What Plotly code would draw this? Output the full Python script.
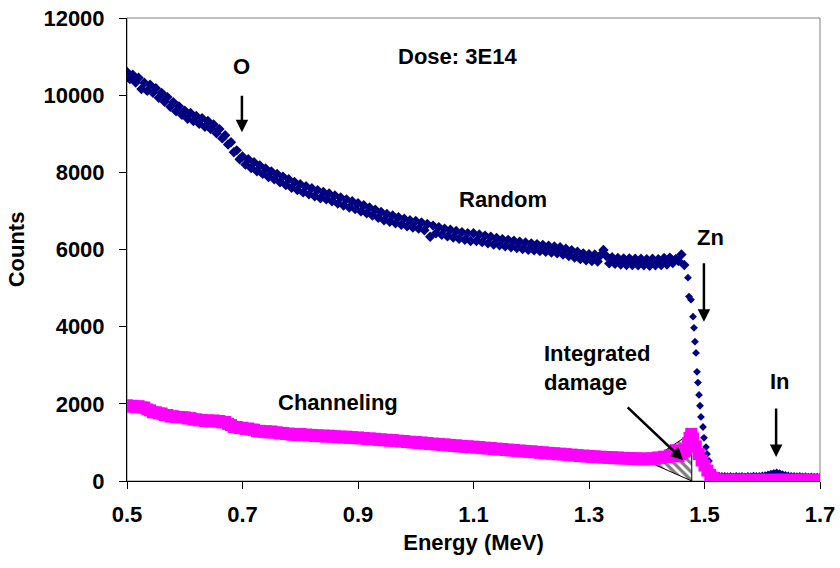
import numpy as np
import plotly.graph_objects as go

# ---------------- data ----------------
E_START, E_STEP = 0.5, 0.005  # channel calibration for the smooth part (0.500 ... 1.465 MeV)

random_main = [
    10600, 10420, 10530, 10330, 10450, 10160, 10320, 10110, 10270, 10060,
    10180, 9930, 10060, 9830, 9950, 9700, 9820, 9580, 9710, 9490,
    9600, 9390, 9540, 9330, 9460, 9260, 9400, 9180, 9330, 9120,
    9240, 9010, 9120, 8880, 8960, 8720, 8780, 8520, 8570, 8340,
    8410, 8200, 8340, 8110, 8260, 8030, 8180, 7960, 8100, 7880,
    8020, 7820, 7960, 7740, 7890, 7670, 7820, 7600, 7750, 7540,
    7690, 7480, 7640, 7430, 7590, 7380, 7540, 7330, 7490, 7300,
    7450, 7250, 7400, 7190, 7350, 7140, 7300, 7090, 7250, 7050,
    7200, 6990, 7150, 6940, 7090, 6880, 7030, 6820, 6970, 6760,
    6920, 6720, 6880, 6680, 6840, 6640, 6800, 6600, 6760, 6570,
    6740, 6540, 6700, 6500, 6660, 6330, 6620, 6420, 6580, 6380,
    6540, 6340, 6510, 6310, 6480, 6280, 6450, 6250, 6420, 6220,
    6420, 6220, 6390, 6190, 6360, 6160, 6330, 6130, 6300, 6110,
    6270, 6080, 6250, 6060, 6230, 6040, 6200, 6010, 6180, 5990,
    6160, 5980, 6140, 5960, 6120, 5940, 6100, 5920, 6080, 5900,
    6060, 5870, 6020, 5830, 5980, 5790, 5940, 5750, 5900, 5720,
    5880, 5700, 5870, 5690, 5850, 5990, 5830, 5640, 5800, 5630,
    5780, 5610, 5770, 5600, 5770, 5600, 5760, 5590, 5760, 5590,
    5750, 5580, 5760, 5590, 5750, 5600, 5780, 5610, 5790, 5650,
    5750, 5700, 5870, 5600,
]

edge_energy = [1.4714, 1.4731, 1.4766, 1.4801, 1.4818, 1.4835, 1.4853, 1.4870, 1.4887,
               1.4905, 1.4922, 1.4939, 1.4974, 1.4991, 1.5026, 1.5043, 1.5078, 1.5147]
random_edge = [5270, 4780, 4700, 4260, 3970, 3610, 3320, 2830, 2550,
               2230, 1950, 1660, 1400, 1120, 880, 700, 520, 200]

TAIL_START = 1.52
random_tail = [
    150, 140, 130, 135, 125, 130, 120, 135, 125, 130,
    120, 135, 125, 140, 130, 135, 145, 150, 170, 190,
    210, 220, 205, 180, 160, 145, 135, 130, 125, 130,
    120, 125, 115, 120, 110, 115, 105,
]

chan_main = [
    1960, 1925, 1950, 1915, 1940, 1905, 1905, 1855, 1830, 1780,
    1780, 1750, 1750, 1710, 1710, 1670, 1680, 1655, 1660, 1650,
    1650, 1620, 1630, 1590, 1600, 1570, 1580, 1555, 1570, 1545,
    1570, 1540, 1555, 1520, 1530, 1480, 1450, 1400, 1400, 1370,
    1380, 1350, 1360, 1330, 1330, 1290, 1300, 1275, 1290, 1260,
    1285, 1255, 1260, 1230, 1245, 1220, 1230, 1200, 1215, 1190,
    1220, 1190, 1205, 1180, 1195, 1170, 1185, 1160, 1175, 1150,
    1175, 1150, 1160, 1135, 1150, 1125, 1150, 1120, 1135, 1110,
    1130, 1105, 1115, 1090, 1105, 1080, 1095, 1065, 1080, 1055,
    1070, 1045, 1060, 1035, 1045, 1020, 1035, 1010, 1020, 995,
    1010, 985, 1000, 970, 985, 960, 970, 945, 960, 935,
    950, 925, 935, 910, 925, 895, 910, 885, 900, 875,
    890, 865, 880, 850, 865, 840, 855, 825, 840, 815,
    830, 805, 815, 790, 805, 780, 790, 765, 780, 755,
    770, 745, 755, 730, 745, 720, 730, 705, 720, 695,
    710, 685, 695, 670, 685, 660, 670, 645, 660, 635,
    650, 625, 640, 615, 630, 605, 620, 600, 615, 590,
    610, 585, 600, 580, 595, 570, 590, 565, 585, 560,
    580, 565, 590, 580, 610, 600, 630, 620, 660, 670,
    800, 640, 700, 760,
]

peak_energy = [1.468, 1.471, 1.474, 1.477, 1.480, 1.485, 1.490, 1.495, 1.500,
               1.505, 1.510, 1.515, 1.520]
chan_peak = [820, 980, 1120, 1220, 1100, 900, 700, 530, 400, 270, 160, 80, 40]

CHAN_TAIL_START = 1.525
chan_tail = [
    30, 28, 32, 30, 27, 31, 29, 30, 28, 33,
    30, 29, 31, 28, 30, 32, 29, 30, 28, 31,
    30, 29, 32, 30, 28, 31, 29, 30, 28, 31,
    30, 29, 31, 30, 28, 30,
]

# integrated-damage wedge (energy, counts)
damage_E = [1.402, 1.478, 1.478, 1.402]
damage_C = [500, 1250, 0, 500]

x_ticks = [0.5, 0.7, 0.9, 1.1, 1.3, 1.5, 1.7]
y_ticks = [0, 2000, 4000, 6000, 8000, 10000, 12000]

# ---------------- build ----------------
main_E = np.round(E_START + E_STEP * np.arange(len(random_main)), 4)
tail_E = np.round(TAIL_START + E_STEP * np.arange(len(random_tail)), 4)
ctail_E = np.round(CHAN_TAIL_START + E_STEP * np.arange(len(chan_tail)), 4)

rand_x = list(main_E) + edge_energy + list(tail_E)
rand_y = random_main + random_edge + random_tail
rand_size = [8] * len(random_main) + [6] * (len(random_edge) + len(random_tail))
chan_x = list(main_E) + peak_energy + list(ctail_E)
chan_y = chan_main + chan_peak + chan_tail

NAVY = "#000080"
MAG = "#FF00FF"
FONT = "Liberation Sans, Arial, sans-serif"
FS = 22

fig = go.Figure()

fig.add_trace(go.Scatter(
    x=rand_x, y=rand_y, mode="markers", name="Random",
    marker=dict(symbol="diamond", size=rand_size, color=NAVY, opacity=1,
                line=dict(width=0)),
))

fig.add_trace(go.Scatter(
    x=damage_E, y=damage_C, mode="lines", fill="toself",
    line=dict(color="black", width=1),
    fillcolor="white",
    fillpattern=dict(shape="\\", fgcolor="black", bgcolor="white", size=6, solidity=0.55),
    hoverinfo="skip", showlegend=False,
))

fig.add_trace(go.Scatter(
    x=chan_x, y=chan_y, mode="markers", name="Channeling",
    marker=dict(symbol="square", size=12, color=MAG, opacity=1, line=dict(width=0)),
))

txt = dict(family=FONT, size=FS, color="black", weight="bold")

labels = [
    ("Dose: 3E14", 1.073, 11013),
    ("O", 0.699, 10753),
    ("Random", 1.151, 7285),
    ("Zn", 1.51, 6312),
    ("Channeling", 0.865, 2026),
    ("In", 1.631, 2571),
]
for t, x, y in labels:
    fig.add_annotation(x=x, y=y, text=t, showarrow=False, font=txt,
                       xanchor="center", yanchor="middle")

fig.add_annotation(x=1.2186, y=2935, text="Integrated<br>damage", showarrow=False,
                   font=txt, xanchor="left", yanchor="middle", align="left")

arrows = [
    (0.699, 9039, 0, -38),
    (1.499, 4130, 0, -60),
    (1.624, 623, 0, -50),
    (1.463, 545, -57, -54),
]
for x, y, ax, ay in arrows:
    fig.add_annotation(x=x, y=y, ax=ax, ay=ay, text="", showarrow=True,
                       arrowhead=2, arrowsize=1, arrowwidth=2.5, arrowcolor="black",
                       standoff=0, startstandoff=0)

# gray frame (top/right)
fig.add_shape(type="rect", xref="paper", yref="paper", x0=0, y0=0, x1=1, y1=1,
              line=dict(color="#808080", width=1), layer="below")

fig.update_layout(
    width=840, height=568,
    margin=dict(l=127, r=20, t=18, b=87),
    plot_bgcolor="white", paper_bgcolor="white",
    showlegend=False,
    font=dict(family=FONT, size=FS, color="black"),
)
fig.update_xaxes(
    range=[0.5, 1.7], tickvals=x_ticks, ticktext=[f"{v:.1f}" for v in x_ticks],
    showgrid=False, zeroline=False, automargin=False,
    showline=True, linecolor="black", linewidth=1,
    ticks="outside", ticklen=7, tickcolor="black", tickwidth=1,
    tickfont=dict(family=FONT, size=FS, color="black", weight="bold"),
    ticklabelstandoff=7,
    title=dict(text="Energy (MeV)", font=dict(family=FONT, size=FS, color="black", weight="bold"),
               standoff=8),
)
fig.update_yaxes(
    range=[0, 12000], tickvals=y_ticks, ticktext=[str(v) for v in y_ticks],
    showgrid=False, zeroline=False, automargin=False,
    showline=True, linecolor="black", linewidth=1,
    ticks="outside", ticklen=7, tickcolor="black", tickwidth=1,
    tickfont=dict(family=FONT, size=FS, color="black", weight="bold"),
    ticklabelstandoff=10,
    title=dict(text="Counts", font=dict(family=FONT, size=FS, color="black", weight="bold"),
               standoff=12),
)

fig.write_html("out.html")
